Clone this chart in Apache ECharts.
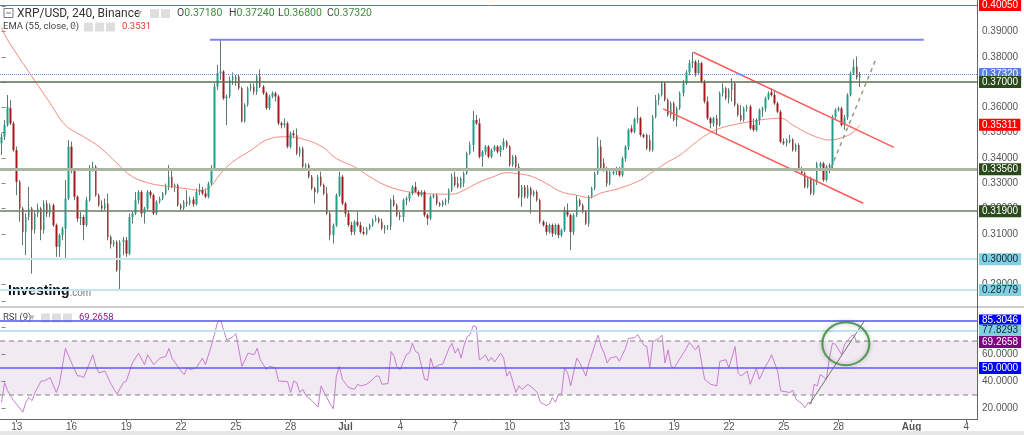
<!DOCTYPE html>
<html><head><meta charset="utf-8">
<script src="https://cdn.jsdelivr.net/npm/echarts@6/dist/echarts.min.js"></script>
<style>html,body{margin:0;padding:0;background:#fff}#c{width:1024px;height:435px}</style>
</head><body><div id="c"></div>
<script>
// ---- 4h candles, XRP/USD (Binance), index 0 = 12 Jun 04:00 ----
const open = [
.3458,.3484,.3530,.3597,.3537,.3431,.3306,.3200,.3108,.3167,
.3200,.3115,.3181,.3200,.3115,.3220,.3181,.3213,.3135,.3049,
.3095,.3121,.3240,.3445,.3352,.3247,.3161,.3167,.3135,.3233,
.3359,.3365,.3253,.3213,.3200,.3220,.3088,.3059,.3068,.2956,
.3068,.3075,.3022,.3167,.3181,.3233,.3266,.3181,.3200,.3266,
.3253,.3181,.3227,.3240,.3260,.3286,.3326,.3286,.3293,.3213,
.3200,.3227,.3220,.3236,.3217,.3266,.3273,.3260,.3247,.3299,
.3359,.3682,.3735,.3742,.3636,.3643,.3709,.3705,.3722,.3676,
.3544,.3610,.3676,.3682,.3662,.3722,.3682,.3656,.3597,.3643,
.3656,.3643,.3537,.3530,.3537,.3445,.3497,.3490,.3418,.3438,
.3365,.3372,.3326,.3280,.3266,.3326,.3293,.3260,.3181,.3095,
.3134,.3253,.3326,.3220,.3181,.3135,.3108,.3148,.3135,.3108,
.3101,.3121,.3135,.3154,.3161,.3148,.3121,.3128,.3130,.3233,
.3213,.3174,.3167,.3233,.3240,.3260,.3286,.3266,.3253,.3266,
.3174,.3161,.3247,.3253,.3220,.3213,.3227,.3233,.3273,.3326,
.3300,.3286,.3300,.3339,.3418,.3451,.3550,.3537,.3405,.3425,
.3445,.3405,.3431,.3445,.3425,.3445,.3465,.3445,.3372,.3405,
.3365,.3247,.3286,.3247,.3280,.3253,.3266,.3233,.3148,.3135,
.3108,.3135,.3101,.3135,.3095,.3115,.3194,.3174,.3108,.3174,
.3233,.3213,.3187,.3141,.3247,.3280,.3339,.3445,.3380,.3352,
.3299,.3339,.3346,.3359,.3332,.3398,.3445,.3517,.3504,.3553,
.3557,.3491,.3491,.3470,.3431,.3563,.3629,.3649,.3695,.3629,
.3570,.3616,.3550,.3596,.3656,.3695,.3738,.3775,.3781,.3735,
.3775,.3702,.3623,.3557,.3537,.3557,.3530,.3656,.3676,.3636,
.3669,.3695,.3610,.3570,.3550,.3596,.3603,.3530,.3511,.3550,
.3590,.3596,.3636,.3660,.3649,.3616,.3583,.3464,.3458,.3464,
.3473,.3431,.3451,.3359,.3339,.3286,.3319,.3260,.3306,.3365,
.3379,.3313,.3365,.3372,.3563,.3590,.3596,.3530,.3560,.3649,
.3735,.3761,.3718];
const close = [
.3484,.3530,.3603,.3537,.3431,.3306,.3200,.3108,.3167,.3200,
.3115,.3181,.3200,.3115,.3220,.3181,.3213,.3135,.3049,.3095,
.3121,.3240,.3445,.3352,.3247,.3161,.3167,.3135,.3233,.3359,
.3365,.3253,.3213,.3200,.3220,.3088,.3059,.3068,.2956,.3068,
.3075,.3022,.3167,.3181,.3233,.3266,.3181,.3200,.3266,.3253,
.3181,.3227,.3240,.3260,.3286,.3326,.3286,.3293,.3213,.3200,
.3227,.3220,.3236,.3217,.3266,.3273,.3260,.3247,.3299,.3359,
.3682,.3735,.3742,.3636,.3643,.3709,.3722,.3722,.3676,.3544,
.3610,.3676,.3682,.3662,.3722,.3682,.3656,.3597,.3643,.3656,
.3643,.3537,.3530,.3537,.3445,.3497,.3490,.3418,.3438,.3365,
.3372,.3326,.3280,.3266,.3326,.3293,.3260,.3181,.3095,.3134,
.3253,.3326,.3220,.3181,.3135,.3108,.3148,.3135,.3108,.3101,
.3121,.3135,.3154,.3161,.3148,.3121,.3128,.3130,.3233,.3213,
.3174,.3167,.3233,.3240,.3260,.3286,.3266,.3253,.3266,.3174,
.3161,.3247,.3253,.3220,.3213,.3227,.3233,.3273,.3326,.3293,
.3286,.3319,.3339,.3418,.3451,.3550,.3537,.3405,.3425,.3445,
.3405,.3431,.3445,.3425,.3445,.3465,.3445,.3372,.3405,.3365,
.3247,.3286,.3247,.3280,.3253,.3266,.3233,.3148,.3135,.3108,
.3135,.3101,.3135,.3095,.3115,.3194,.3174,.3108,.3174,.3233,
.3213,.3187,.3141,.3247,.3280,.3339,.3445,.3359,.3352,.3299,
.3346,.3346,.3359,.3332,.3398,.3445,.3511,.3504,.3553,.3557,
.3491,.3484,.3438,.3431,.3563,.3629,.3649,.3695,.3629,.3570,
.3616,.3550,.3596,.3656,.3695,.3738,.3775,.3781,.3735,.3775,
.3702,.3623,.3557,.3537,.3557,.3530,.3656,.3676,.3636,.3669,
.3695,.3610,.3570,.3550,.3596,.3603,.3517,.3511,.3550,.3590,
.3596,.3636,.3656,.3649,.3616,.3583,.3464,.3458,.3471,.3473,
.3431,.3451,.3359,.3339,.3286,.3319,.3260,.3306,.3379,.3379,
.3313,.3365,.3372,.3563,.3590,.3596,.3530,.3560,.3649,.3735,
.3761,.3718,.3732];
const low = [
.3412,.3471,.3524,.3530,.3425,.3253,.3148,.3055,.3016,.3154,
.2943,.3101,.3167,.3075,.3101,.3167,.3167,.3128,.3009,.3009,
.3075,.2996,.3233,.3339,.3233,.3148,.3135,.3075,.3128,.3227,
.3346,.3247,.3207,.3187,.3194,.3075,.3042,.3049,.2950,.2877,
.3016,.3009,.3016,.3141,.3174,.3220,.3167,.3141,.3194,.3240,
.3174,.3174,.3220,.3233,.3253,.3273,.3280,.3266,.3207,.3194,
.3194,.3207,.3213,.3207,.3213,.3253,.3253,.3240,.3240,.3293,
.3352,.3669,.3709,.3629,.3530,.3636,.3689,.3685,.3669,.3540,
.3540,.3603,.3663,.3650,.3650,.3676,.3649,.3590,.3590,.3636,
.3623,.3530,.3517,.3520,.3438,.3438,.3478,.3412,.3405,.3359,
.3352,.3319,.3273,.3220,.3260,.3286,.3253,.3174,.3075,.3062,
.3128,.3247,.3213,.3167,.3128,.3095,.3095,.3128,.3101,.3095,
.3095,.3115,.3128,.3148,.3141,.3115,.3101,.3115,.3115,.3207,
.3167,.3154,.3148,.3213,.3227,.3253,.3260,.3247,.3247,.3167,
.3135,.3154,.3240,.3213,.3207,.3207,.3213,.3220,.3266,.3286,
.3280,.3280,.3286,.3333,.3412,.3425,.3530,.3398,.3365,.3412,
.3398,.3398,.3425,.3418,.3405,.3431,.3438,.3365,.3365,.3359,
.3240,.3207,.3240,.3240,.3181,.3247,.3227,.3141,.3128,.3095,
.3101,.3088,.3095,.3082,.3088,.3108,.3167,.3035,.3095,.3167,
.3207,.3181,.3135,.3128,.3240,.3273,.3333,.3352,.3346,.3286,
.3293,.3333,.3333,.3326,.3326,.3385,.3431,.3497,.3497,.3537,
.3484,.3478,.3431,.3425,.3425,.3557,.3610,.3643,.3623,.3563,
.3557,.3544,.3524,.3590,.3643,.3689,.3728,.3755,.3722,.3728,
.3695,.3616,.3550,.3517,.3524,.3491,.3524,.3643,.3629,.3616,
.3623,.3603,.3563,.3544,.3544,.3583,.3511,.3504,.3504,.3530,
.3563,.3583,.3629,.3643,.3610,.3577,.3458,.3451,.3445,.3458,
.3425,.3425,.3352,.3333,.3280,.3280,.3253,.3253,.3293,.3359,
.3306,.3306,.3339,.3352,.3550,.3583,.3524,.3511,.3550,.3643,
.3728,.3710,.3680];
const high = [
.3497,.3550,.3649,.3629,.3544,.3445,.3313,.3207,.3181,.3286,
.3207,.3194,.3220,.3207,.3233,.3233,.3220,.3220,.3141,.3101,
.3128,.3313,.3471,.3465,.3359,.3253,.3187,.3174,.3247,.3372,
.3385,.3372,.3260,.3233,.3240,.3260,.3095,.3075,.3075,.3075,
.3088,.3088,.3181,.3187,.3266,.3273,.3273,.3207,.3273,.3273,
.3260,.3233,.3247,.3266,.3299,.3372,.3352,.3299,.3299,.3220,
.3233,.3273,.3247,.3247,.3280,.3299,.3286,.3280,.3306,.3372,
.3695,.3768,.3867,.3748,.3650,.3722,.3738,.3728,.3728,.3682,
.3616,.3682,.3695,.3695,.3728,.3750,.3689,.3663,.3650,.3663,
.3663,.3650,.3544,.3557,.3544,.3504,.3510,.3517,.3445,.3445,
.3379,.3379,.3333,.3286,.3333,.3346,.3299,.3286,.3187,.3141,
.3260,.3346,.3333,.3227,.3194,.3148,.3154,.3187,.3148,.3128,
.3128,.3141,.3161,.3174,.3167,.3161,.3135,.3135,.3240,.3253,
.3220,.3187,.3240,.3247,.3266,.3293,.3306,.3273,.3273,.3273,
.3181,.3253,.3260,.3260,.3227,.3233,.3240,.3280,.3339,.3346,
.3326,.3326,.3346,.3425,.3465,.3586,.3570,.3557,.3431,.3451,
.3451,.3438,.3451,.3451,.3451,.3478,.3471,.3451,.3412,.3412,
.3379,.3293,.3293,.3293,.3286,.3273,.3273,.3240,.3154,.3148,
.3141,.3141,.3141,.3141,.3121,.3207,.3220,.3181,.3181,.3253,
.3240,.3220,.3194,.3253,.3286,.3346,.3484,.3471,.3399,.3365,
.3352,.3352,.3365,.3365,.3405,.3451,.3517,.3530,.3560,.3603,
.3563,.3497,.3497,.3491,.3570,.3649,.3656,.3702,.3702,.3636,
.3623,.3623,.3603,.3663,.3709,.3748,.3788,.3818,.3788,.3788,
.3781,.3709,.3643,.3563,.3563,.3570,.3663,.3695,.3682,.3676,
.3715,.3702,.3616,.3610,.3603,.3610,.3610,.3557,.3557,.3596,
.3603,.3643,.3663,.3676,.3669,.3623,.3590,.3478,.3478,.3491,
.3478,.3458,.3458,.3365,.3346,.3326,.3326,.3313,.3385,.3385,
.3385,.3372,.3379,.3570,.3596,.3603,.3603,.3570,.3656,.3742,
.3790,.3801,.3740];

// EMA(55, close): candle index / value
const emaIdx = [0,2,10,16,21,27,32,38,43,49,54,60,65,68,72,76,82,87,93,98,105,110,116,121,126,132,137,143,148,152,156,161,166,169,174,179,184,189,193,197,203,210,214,219,223,227,232,236,240,246,251,256,260,265,269,272,277,280,282];
const emaVals = [.3916,.3867,.3722,.3616,.3530,.3484,.3445,.3379,.3326,.3299,.3289,.3280,.3273,.3280,.3339,.3385,.3431,.3471,.3484,.3478,.3447,.3398,.3365,.3326,.3293,.3270,.3262,.3257,.3257,.3273,.3299,.3323,.3342,.3339,.3328,.3299,.3266,.3253,.3244,.3262,.3280,.3313,.3346,.3385,.3412,.3451,.3495,.3517,.3530,.3544,.3553,.3557,.3530,.3497,.3478,.3471,.3484,.3504,.3531];

// RSI(9): candle index / value
const rsiIdx = [0,1,2,4,7,8,9,10,11,13,14,16,18,19,21,23,25,26,27,30,31,32,34,36,37,38,40,41,43,45,47,48,50,52,54,55,56,59,60,61,62,64,66,67,69,71,72,74,76,77,79,81,83,84,85,87,88,90,91,94,95,96,97,98,99,100,102,104,105,106,108,109,110,111,112,114,116,117,118,120,122,123,124,125,127,128,129,130,131,133,134,135,136,137,139,140,141,142,144,145,147,148,149,150,151,152,153,154,155,156,157,158,159,160,161,162,164,165,166,167,169,170,171,173,175,176,177,179,180,181,182,183,184,185,186,187,189,190,192,193,196,197,198,199,200,202,203,205,206,208,209,211,212,213,214,216,217,218,219,220,221,223,225,226,228,229,231,233,235,236,238,239,241,242,243,245,246,247,248,249,251,252,253,255,256,259,260,261,263,264,265,266,267,268,269,271,272,273,274,276,277,279,280,281,282];
const rsiVals = [24.4,39,33,25.6,17,24.4,28,25.6,31.7,40.2,40.2,42.7,31.7,37.8,64.6,53.7,44,44,42.7,59.8,51.2,46.3,47.6,37.8,34,30.5,39,40.2,53.7,61,52.4,59.8,52.4,57.3,58.5,64.6,57.3,47.6,45,50,48.8,50,57.3,52.4,67,84.1,85.4,70.7,73.2,75.6,51.2,61,59.8,64.6,56.1,48.8,51.2,50,40.2,39.8,31.7,40.2,39,31.7,34,29.3,25.6,20.7,36.6,31.7,23.2,19.5,43.9,51.2,41.5,35.4,34,37.8,36.6,37.8,41.5,43.9,43.9,37.8,38.3,62.2,58.5,50,48.8,59.8,61,68.3,62.2,61,41.5,40.7,57.3,50,52.4,52.9,64.6,68.3,61,64.6,57.3,67,73.2,74.9,81.7,80.5,56.1,57.3,59.8,54.9,57.8,54.4,61,57.3,43.9,47.6,31.7,36.6,34,37.8,34,31.7,24.4,21.9,23.2,28,24.4,30.5,30.5,50,46.3,36.6,57.3,53.7,43.9,53.7,74.4,65.9,61,53.7,57.3,58.5,54.9,64.6,72,72.4,74.9,67,65.9,50,69.5,72,74.4,53.7,63.4,51.2,50,57.3,64.6,69,63.4,67,41.5,37.8,36.6,54.9,56.1,50,65.9,46.3,43.9,47.6,37.8,43.9,50,41.5,51.2,54.9,59.8,47.6,32.9,31.7,33.4,26.8,23.2,20.3,24.4,23.2,37.8,36.6,45.1,41.5,57.3,68.3,67.6,59.8,67.6,73.2,74.9,69,69.27];

// x-axis tick labels
const tickDates = ['2022-06-13','2022-06-16','2022-06-19','2022-06-22','2022-06-25','2022-06-28','2022-07-01','2022-07-04','2022-07-07','2022-07-10','2022-07-13','2022-07-16','2022-07-19','2022-07-22','2022-07-25','2022-07-28','2022-08-01','2022-08-04'];
const tickTexts = ['13','16','19','22','25','28','Jul','4','7','10','13','16','19','22','25','28','Aug','4'];
const monthTicks = ['Jul','Aug'];
const rsiTickLabels = [20, 40, 60];

// horizontal levels (main panel)
const priceLevels = [0.40050, 0.37320, 0.37000, 0.35311, 0.33560, 0.31900, 0.30000, 0.28779];
// RSI panel levels
const rsiLevels = [85.3046, 77.8293, 69.2658, 50.0000];
const rsiBand = [30, 70];

// drawn annotations in data space: [candle index, value]
const resistanceTop = [[68.5, 0.3867], [303, 0.3867]];
const channelUpper = [[227.3, 0.3818], [293.2, 0.3442]];
const channelLower = [[217.4, 0.3594], [283.1, 0.3221]];
const trendDashed = [[272.5, 0.3360], [287.3, 0.3791]];
const rsiTrend = [[265.4, 22.8], [283.5, 85.0]];
const rsiCircle = [[277.4, 68.0]];

// header texts
const ohlcKeys = ['O','H','L','C'];
const ohlcVals = ['0.37180','0.37240','0.36800','0.37320'];

// ---------- build ----------
const slotCount = 321;
const start = Date.UTC(2022, 5, 12, 4, 0);
const pad = n => (n < 10 ? '0' : '') + n;
const categories = [];
for (let k = 0; k < slotCount; k++) {
  const d = new Date(start + k * 4 * 3600 * 1000);
  categories.push(d.getUTCFullYear() + '-' + pad(d.getUTCMonth() + 1) + '-' + pad(d.getUTCDate()) + ' ' + pad(d.getUTCHours()));
}
const labelMap = {};
tickDates.forEach((d, k) => { labelMap[d + ' 00'] = tickTexts[k]; });
const tickFilter = (idx, val) => Object.prototype.hasOwnProperty.call(labelMap, val);
const tickFmt = val => {
  const t = labelMap[val];
  if (!t) return '';
  return monthTicks.indexOf(t) >= 0 ? '{m|' + t + '}' : t;
};

const wickData = open.map((o, k) => [o, close[k], low[k], high[k]]);
const bodyData = open.map((o, k) => [o, close[k], Math.min(o, close[k]), Math.max(o, close[k])]);
const emaData = emaIdx.map((x, k) => [x, emaVals[k]]);
const rsiData = rsiIdx.map((x, k) => [x, rsiVals[k]]);

const UP = '#1f9e89', DOWN = '#a8161c', WICK = '#5f7a6c';
const FONT = 'Liberation Sans';
const CLEAR = 'rgba(0,0,0,0)';

function lvlLabel(text, bg, fg) {
  return { show: true, position: 'end', distance: 2, formatter: text, backgroundColor: bg, color: fg,
    fontSize: 10, fontFamily: FONT, padding: [1, 3, 0, 3], lineHeight: 11 };
}
const mainStyles = [
  { line: { color: '#ff4040', width: 1, type: 'solid' }, bg: '#ff0000', fg: '#fff' },
  { line: { color: '#6f86e6', width: 1, type: 'dotted' }, bg: '#5b7fe3', fg: '#fff' },
  { line: { color: '#5d6f52', width: 1.5, type: 'solid' }, bg: '#2b4a1c', fg: '#fff' },
  { line: { color: CLEAR, width: 1, type: 'solid' }, bg: '#ff0000', fg: '#fff' },
  { line: { color: '#aab5a2', width: 3, type: 'solid' }, bg: '#2b4a1c', fg: '#fff' },
  { line: { color: '#6c7b62', width: 1.5, type: 'solid' }, bg: '#2b4a1c', fg: '#fff' },
  { line: { color: '#c4e6ee', width: 2, type: 'solid' }, bg: '#80d0e2', fg: '#123' },
  { line: { color: '#c4e6ee', width: 2, type: 'solid' }, bg: '#80d0e2', fg: '#123' }
];
const mainMark = priceLevels.map((v, k) => ({
  yAxis: v, lineStyle: mainStyles[k].line,
  label: lvlLabel(v.toFixed(5), mainStyles[k].bg, mainStyles[k].fg)
}));
const rsiStyles = [
  { line: { color: '#5050f0', width: 1.5, type: 'solid' }, bg: '#0000ff', fg: '#fff' },
  { line: { color: '#c0e4ee', width: 2, type: 'solid' }, bg: '#7fcfe0', fg: '#123' },
  { line: { color: CLEAR, width: 1, type: 'solid' }, bg: '#800080', fg: '#fff' },
  { line: { color: '#5a5af0', width: 1.5, type: 'solid' }, bg: '#0000ff', fg: '#fff' }
];
const rsiMark = rsiBand.map(v => ({ yAxis: v, lineStyle: { color: '#a8a8a8', width: 1.5, type: [5, 4] }, label: { show: false } }))
  .concat(rsiLevels.map((v, k) => ({
    yAxis: v, lineStyle: rsiStyles[k].line,
    label: lvlLabel(v.toFixed(4), rsiStyles[k].bg, rsiStyles[k].fg)
  })));

function seg(data, style, xi, yi) {
  return { type: 'line', xAxisIndex: xi, yAxisIndex: yi, data: data, symbol: 'none', silent: true,
    lineStyle: style, z: 4, animation: false };
}

function icons(x0, y0, n) {
  const out = [];
  for (let k = 0; k < n; k++) out.push({ type: 'rect', shape: { x: x0 + k * 11, y: y0, width: 9, height: 9, r: 1 }, style: { fill: '#dedede' } });
  return out;
}

const graphics = [
  { type: 'rect', shape: { x: 0, y: 306, width: 1024, height: 2 }, style: { fill: '#cccccc' }, z: 10 },
  { type: 'rect', shape: { x: 0, y: 431, width: 1024, height: 4 }, style: { fill: '#e6e6e6' }, z: 10 },
  { type: 'line', shape: { x1: 977.5, y1: 0, x2: 977.5, y2: 420 }, style: { stroke: '#666', lineWidth: 1 }, z: 10 },
  { type: 'rect', shape: { x: 4, y: 8.5, width: 9, height: 9 }, style: { fill: '#fff', stroke: '#777', lineWidth: 1 } },
  { type: 'line', shape: { x1: 6, y1: 13, x2: 11, y2: 13 }, style: { stroke: '#777', lineWidth: 1 } },
  { type: 'text', x: 17, y: 13.5, style: { text: 'XRP/USD, 240, Binance', fontSize: 12, fontFamily: 'Roboto', fill: '#333', verticalAlign: 'middle' } },
  { type: 'text', x: 137, y: 13.5, style: { text: '▾', fontSize: 10, fontFamily: 'DejaVu Sans', fill: '#bbb', verticalAlign: 'middle' } },
  { type: 'text', x: 3, y: 27, style: { text: 'EMA (55, close, 0)', fontSize: 9.5, fontFamily: 'Roboto', fill: '#444', verticalAlign: 'middle' } },
  { type: 'text', x: 72, y: 27, style: { text: '▾', fontSize: 9, fontFamily: 'DejaVu Sans', fill: '#bbb', verticalAlign: 'middle' } },
  { type: 'text', x: 122, y: 27, style: { text: emaVals[emaVals.length - 1].toFixed(4), fontSize: 9.5, fontFamily: 'Roboto', fill: '#e53935', verticalAlign: 'middle' } },
  { type: 'text', x: 8, y: 291.5, style: { text: 'Investing', fontSize: 14, fontWeight: 'bold', fontFamily: FONT, fill: '#111', verticalAlign: 'middle' } },
  { type: 'text', x: 69.5, y: 293, style: { text: '.com', fontSize: 10, fontFamily: FONT, fill: '#777', verticalAlign: 'middle' } },
  { type: 'text', x: 3, y: 318, style: { text: 'RSI (9)', fontSize: 9.5, fontFamily: 'Roboto', fill: '#444', verticalAlign: 'middle' } },
  { type: 'text', x: 30, y: 318, style: { text: '▾', fontSize: 9, fontFamily: 'DejaVu Sans', fill: '#bbb', verticalAlign: 'middle' } },
  { type: 'text', x: 79, y: 318, style: { text: rsiLevels[2].toFixed(4), fontSize: 9.5, fontFamily: 'Roboto', fill: '#8e1a8e', verticalAlign: 'middle' } }
].concat(icons(150, 9, 2), icons(84, 22.5, 3), icons(41, 313.5, 3));
const ohlcX = [177, 229, 278, 327];
ohlcKeys.forEach((k, i) => {
  graphics.push({ type: 'text', x: ohlcX[i], y: 13.5, style: {
    text: '{k|' + k + '}{v|' + ohlcVals[i] + '}', verticalAlign: 'middle',
    rich: { k: { fontSize: 10.5, fontFamily: 'Roboto', fill: '#444' }, v: { fontSize: 10.5, fontFamily: 'Roboto', fill: '#3c8d3c' } } } });
});

const chart = echarts.init(document.getElementById('c'), null, { renderer: 'canvas' });
chart.setOption({
  animation: false,
  backgroundColor: '#fff',
  grid: [
    { left: 0, right: 47, top: 0, height: 309.8 },
    { left: 0, right: 47, top: 300.8, height: 135 }
  ],
  xAxis: [
    { type: 'category', gridIndex: 0, data: categories, show: false },
    { type: 'category', gridIndex: 1, data: categories, offset: -15.8,
      axisLine: { show: true, onZero: false, lineStyle: { color: '#666' } },
      axisTick: { show: true, alignWithLabel: true, interval: tickFilter, length: 3, lineStyle: { color: '#666' } },
      axisLabel: { interval: tickFilter, formatter: tickFmt, color: '#555', fontSize: 10, fontFamily: FONT, margin: 3,
        rich: { m: { fontWeight: 'bold', fontSize: 10, fontFamily: FONT, color: '#555' } } },
      splitLine: { show: false } },
    { type: 'value', gridIndex: 0, min: -0.5, max: slotCount - 0.5, show: false },
    { type: 'value', gridIndex: 1, min: -0.5, max: slotCount - 0.5, show: false }
  ],
  yAxis: [
    { type: 'value', gridIndex: 0, position: 'right', min: 0.28, max: 0.40245, interval: 0.01,
      axisLine: { show: false }, splitLine: { show: false },
      axisTick: { show: true, length: 4, lineStyle: { color: '#888' } },
      axisLabel: { formatter: v => (v < 0.2849 || v > 0.4049) ? '' : v.toFixed(5), showMinLabel: false, showMaxLabel: false,
        color: '#555', fontSize: 10, fontFamily: FONT, margin: 5 } },
    { type: 'value', gridIndex: 1, position: 'right', min: 0, max: 100, interval: 20,
      axisLine: { show: false }, splitLine: { show: false },
      axisTick: { show: true, length: 4, lineStyle: { color: '#888' } },
      axisLabel: { formatter: v => rsiTickLabels.indexOf(Math.round(v)) >= 0 ? v.toFixed(4) : '',
        color: '#555', fontSize: 10, fontFamily: FONT, margin: 5 } }
  ],
  graphic: { elements: graphics },
  series: [
    { type: 'candlestick', name: 'wick', xAxisIndex: 0, yAxisIndex: 0, data: wickData, barWidth: 1, silent: true,
      itemStyle: { color: WICK, color0: WICK, borderColor: WICK, borderColor0: WICK, borderWidth: 1 }, z: 2 },
    { type: 'candlestick', name: 'XRP/USD', xAxisIndex: 0, yAxisIndex: 0, data: bodyData, barWidth: 2, silent: true,
      itemStyle: { color: UP, color0: DOWN, borderColor: UP, borderColor0: DOWN, borderWidth: 0 }, z: 3,
      markLine: { silent: true, precision: 5, symbol: ['none', 'none'], animation: false, data: mainMark } },
    { type: 'line', name: 'EMA', xAxisIndex: 2, yAxisIndex: 0, data: emaData, symbol: 'none', smooth: 0.4, silent: true,
      lineStyle: { color: '#f28b82', width: 1 }, z: 3 },
    seg(resistanceTop, { color: '#8080f0', width: 2 }, 2, 0),
    seg(channelUpper, { color: '#ff5a5a', width: 1.5 }, 2, 0),
    seg(channelLower, { color: '#ff5a5a', width: 1.5 }, 2, 0),
    seg(trendDashed, { color: '#8f9c84', width: 1.5, type: [4, 4] }, 2, 0),
    { type: 'line', name: 'RSI', xAxisIndex: 3, yAxisIndex: 1, data: rsiData, symbol: 'none', silent: true,
      lineStyle: { color: '#c77dd0', width: 1 }, z: 3,
      markLine: { silent: true, precision: 4, symbol: ['none', 'none'], animation: false, data: rsiMark },
      markArea: { silent: true, itemStyle: { color: 'rgba(140,60,150,0.11)' }, data: [[{ yAxis: rsiBand[0] }, { yAxis: rsiBand[1] }]] } },
    seg(rsiTrend, { color: '#6a746a', width: 1 }, 3, 1),
    { type: 'scatter', xAxisIndex: 3, yAxisIndex: 1, data: rsiCircle, symbol: 'circle', symbolSize: [47, 43], silent: true, z: 5,
      itemStyle: { color: 'rgba(0,0,0,0)', borderColor: '#2e8b2e', borderWidth: 2, shadowBlur: 4, shadowColor: 'rgba(0,0,0,0.35)' } }
  ]
});
</script>
</body></html>
